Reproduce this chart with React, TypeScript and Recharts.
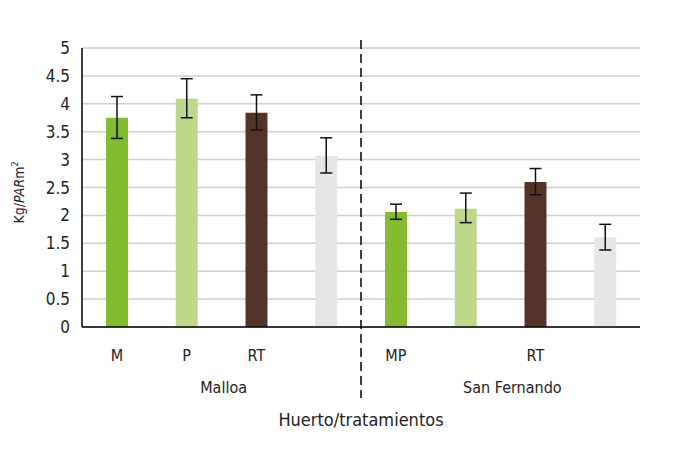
import { Bar, BarChart, CartesianGrid, Cell, ErrorBar, Label, ReferenceLine, XAxis, YAxis } from "recharts"

const categories = ["M", "P", "RT", "", "MP", "", "RT", ""]
const values = [3.75, 4.09, 3.84, 3.07, 2.06, 2.12, 2.6, 1.61]
const errLow = [0.37, 0.34, 0.31, 0.31, 0.13, 0.25, 0.23, 0.23]
const errHigh = [0.38, 0.36, 0.32, 0.32, 0.14, 0.28, 0.24, 0.23]
const colors = ["#83BB32", "#BDD78B", "#543329", "#E6E6E6", "#83BB32", "#BDD78B", "#543329", "#E6E6E6"]
const groups = ["Malloa", "San Fernando"]
const groupPos = [2.03, 6.17]
const yTicks = [0, 0.5, 1, 1.5, 2, 2.5, 3, 3.5, 4, 4.5, 5]

const data = categories.map((name, i) => ({
  pos: i + 0.5,
  name,
  value: values[i],
  err: [errLow[i], errHigh[i]],
}))

const font = "'Liberation Sans Narrow', 'DejaVu Sans Condensed', 'Open Sans', sans-serif"

const CatTick = (props: any) => {
  const { x, y, payload } = props
  const idx = Math.round(payload.value - 0.5)
  return (
    <text x={x} y={y} dy={26} textAnchor="middle" fontSize={16} fill="#222" fontFamily={font}>
      {categories[idx]}
    </text>
  )
}

const GroupTick = (props: any) => {
  const { x, y, payload } = props
  const idx = groupPos.indexOf(payload.value)
  return (
    <text x={x} y={y} dy={13} textAnchor="middle" fontSize={16} fill="#222" fontFamily={font}>
      {groups[idx]}
    </text>
  )
}

const Divider = (props: any) => {
  const top = Math.min(props.y1, props.y2)
  const bottom = Math.max(props.y1, props.y2)
  return <line x1={props.x1} y1={top - 8} x2={props.x2} y2={bottom + 71} stroke="#000" strokeWidth={1.5} strokeDasharray="9 5" />
}

export default function App() {
  return (
    <div style={{ position: "absolute", left: 0, top: 0 }}>
      <BarChart width={676} height={456} data={data} margin={{ top: 48, right: 36, bottom: 0, left: 0 }}>
        <CartesianGrid vertical={false} stroke="#d0d0d0" strokeWidth={1.5} />
        <XAxis
          dataKey="pos"
          type="number"
          domain={[0, 8]}
          allowDataOverflow
          ticks={data.map((d) => d.pos)}
          tick={<CatTick />}
          tickLine={false}
          axisLine={{ stroke: "#000", strokeWidth: 1.5 }}
          height={45}
          interval={0}
        />
        <XAxis
          xAxisId="grp"
          dataKey="pos"
          type="number"
          domain={[0, 8]}
          allowDataOverflow
          ticks={groupPos}
          tick={<GroupTick />}
          tickLine={false}
          axisLine={false}
          height={84}
          interval={0}
        >
          <Label value="Huerto/tratamientos" position="insideTop" offset={41} fontSize={18} fill="#222" fontFamily={font} />
        </XAxis>
        <YAxis
          domain={[0, 5]}
          ticks={yTicks}
          width={82}
          tickLine={false}
          tickSize={4}
          axisLine={{ stroke: "#000", strokeWidth: 1.5 }}
          tick={{ fontSize: 17, fill: "#222", fontFamily: font }}
          tickMargin={8}
          interval={0}
        >
          <Label
            content={(p: any) => {
              const vb = p.viewBox
              const cy = vb.y + vb.height / 2 + 5
              return (
                <text x={24} y={cy} transform={`rotate(-90 24 ${cy})`} textAnchor="middle" fontSize={14} fill="#222" fontFamily={font}>
                  Kg/<tspan fontStyle="italic">PAR</tspan>m<tspan fontSize={9} dy={-6}>2</tspan>
                </text>
              )
            }}
          />
        </YAxis>
        <ReferenceLine x={4} shape={<Divider />} />
        <Bar dataKey="value" barSize={22} isAnimationActive={false}>
          {data.map((d, i) => (
            <Cell key={i} fill={colors[i]} />
          ))}
          <ErrorBar dataKey="err" width={6} stroke="#111" strokeWidth={1.5} direction="y" />
        </Bar>
      </BarChart>
    </div>
  )
}
